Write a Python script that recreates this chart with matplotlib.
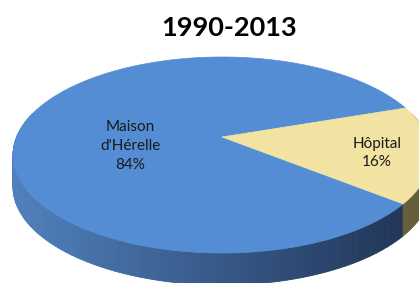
import numpy as np
import matplotlib
matplotlib.use("Agg")
import matplotlib.pyplot as plt
from matplotlib.patches import Polygon
from matplotlib.collections import PolyCollection

# ---- data ----
title = "1990-2013"
categories = ["Maison\nd'Hérelle", "Hôpital"]
values = [84, 16]
top_colors = ["#558DD5", "#F2E3A2"]
side_colors_left = [(0.31, 0.50, 0.74), (0.42, 0.39, 0.25)]
side_colors_right = [(0.13, 0.21, 0.34), (0.40, 0.37, 0.23)]
start_angle = 18.9  # degrees, counter-clockwise

# ---- projection params (pixels) ----
W, H = 419, 283
cx, cy0 = 222.0, 137.0
R, S, k, T = 205.4, 94.7, 0.1837, 32.0


def proj(u, v, z=0.0):
    w = 1.0 + k * v
    return cx + R * u / w, cy0 - S * v / w + T * z


fig = plt.figure(figsize=(W / 100, H / 100), dpi=100)
ax = fig.add_axes([0, 0, 1, 1])
ax.set_xlim(0, W)
ax.set_ylim(H, 0)
ax.axis("off")

fracs = np.array(values, dtype=float) / np.sum(values)
bounds = start_angle + 360.0 * np.concatenate([[0], np.cumsum(fracs)])

# sides
for i in range(len(values)):
    a0, a1 = bounds[i], bounds[i + 1]
    n = max(int((a1 - a0) / 1.0), 2)
    ts = np.radians(np.linspace(a0, a1, n + 1))
    polys, cols = [], []
    cl = np.array(side_colors_left[i])
    cr = np.array(side_colors_right[i])
    for j in range(n):
        t0, t1 = ts[j], ts[j + 1]
        if np.sin((t0 + t1) / 2) > 0.25:
            continue
        p = [proj(np.cos(t0), np.sin(t0), 0), proj(np.cos(t1), np.sin(t1), 0),
             proj(np.cos(t1), np.sin(t1), 1), proj(np.cos(t0), np.sin(t0), 1)]
        polys.append(p)
        xm = (p[0][0] + p[1][0]) / 2
        f = np.clip((xm - 15) / (405 - 15), 0, 1)
        cols.append(tuple(cl * (1 - f) + cr * f))
    pc = PolyCollection(polys, facecolors=cols, edgecolors=cols, linewidths=0.6)
    ax.add_collection(pc)

# tops
for i in range(len(values)):
    a0, a1 = bounds[i], bounds[i + 1]
    ts = np.radians(np.linspace(a0, a1, 400))
    pts = [proj(0, 0)] + [proj(np.cos(t), np.sin(t)) for t in ts]
    ax.add_patch(Polygon(pts, closed=True, facecolor=top_colors[i],
                         edgecolor=top_colors[i], linewidth=0.5))

# labels
label_pos = [(130, 146), (377, 153)]
for cat, val, (lx, ly) in zip(categories, values, label_pos):
    ax.text(lx, ly, f"{cat}\n{val}%", ha="center", va="center",
            fontsize=11, family=["Lato", "DejaVu Sans"], color="#1a1a1a",
            linespacing=1.45)

ax.text(229, 28, title, ha="center", va="center", fontsize=19.5,
        fontweight="bold", family=["Lato", "DejaVu Sans"], color="black")

fig.savefig("out.png", dpi=100)
